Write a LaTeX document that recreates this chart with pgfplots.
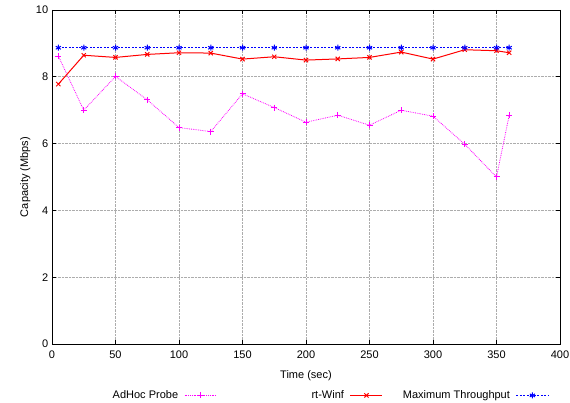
\documentclass[border=0pt]{standalone}
\usepackage{fontspec}
\setmainfont{Liberation Sans}
\usepackage{pgfplots}
\pgfplotsset{compat=1.18}
\definecolor{mag}{RGB}{255,0,255}
\definecolor{rd}{RGB}{255,0,0}
\definecolor{bl}{RGB}{0,0,255}
\begin{document}
\fontsize{11}{13}\selectfont
\begin{tikzpicture}
\begin{axis}[
  name=ax,
  scale only axis,
  width=508pt, height=334pt,
  xmin=0, xmax=400, ymin=0, ymax=10,
  xtick={0,50,...,400}, ytick={0,2,...,10},
  tick align=inside,
  major tick length=4pt,
  grid=major,
  major grid style={densely dotted, gray!65, line width=0.6pt},
  axis line style={line width=0.8pt},
  every tick/.style={black, line width=0.6pt},
  /pgf/number format/assume math mode=true,
  tick label style={font=\fontsize{11}{13}\selectfont},
  xticklabel style={yshift=-3pt},
  label style={font=\fontsize{11}{13}\selectfont},
  xlabel={Time (sec)},
  ylabel={Capacity (Mbps)},
  xlabel style={yshift=-4pt},
  ylabel style={yshift=-2pt},
  legend columns=3,
  legend plot pos=right,
  legend cell align=right,
  legend style={at={(0.5,-0.127)}, anchor=north, draw=none, fill=none, xshift=-6pt,
    font=\fontsize{11}{13}\selectfont, column sep=0pt},
  legend image code/.code={
    \draw[mark repeat=2,mark phase=2,#1] plot coordinates {(0pt,0pt) (16pt,0pt) (32pt,0pt)};
  },
]
\addplot[color=mag, densely dotted, line width=0.8pt, mark=+, mark size=3pt, mark options={solid, mag, line width=1pt}] coordinates {
(5,8.62) (25,7.00) (50,8.01) (75,7.31) (100,6.48) (125,6.36) (150,7.49) (175,7.08) (200,6.64) (225,6.85) (250,6.55) (275,7.00) (300,6.82) (325,5.98) (350,5.00) (360,6.85)
};
\addlegendentry{\makebox[129pt][r]{AdHoc Probe\hspace{4pt}}}
\addplot[color=rd, solid, line width=1pt, mark=x, mark size=3pt, mark options={solid, rd, line width=1pt}] coordinates {
(5,7.78) (25,8.645) (50,8.58) (75,8.67) (100,8.72) (125,8.71) (150,8.53) (175,8.60) (200,8.50) (225,8.535) (250,8.58) (275,8.74) (300,8.53) (325,8.81) (350,8.78) (360,8.72)
};
\addlegendentry{\makebox[129pt][r]{rt-Winf\hspace{4pt}}}
\addplot[color=bl, dash pattern=on 2pt off 1.5pt, line width=0.9pt, mark=asterisk, mark size=3pt, mark options={solid, bl, line width=1pt}] coordinates {
(5,8.87) (25,8.87) (50,8.87) (75,8.87) (100,8.87) (125,8.87) (150,8.87) (175,8.87) (200,8.87) (225,8.87) (250,8.87) (275,8.87) (300,8.87) (325,8.87) (350,8.87) (360,8.87)
};
\addlegendentry{\makebox[129pt][r]{Maximum Throughput\hspace{4pt}}}
\end{axis}
\pgfresetboundingbox
\path ([xshift=-52pt,yshift=-59pt]ax.south west) rectangle ([xshift=10pt,yshift=10pt]ax.north east);
\end{tikzpicture}
\end{document}
